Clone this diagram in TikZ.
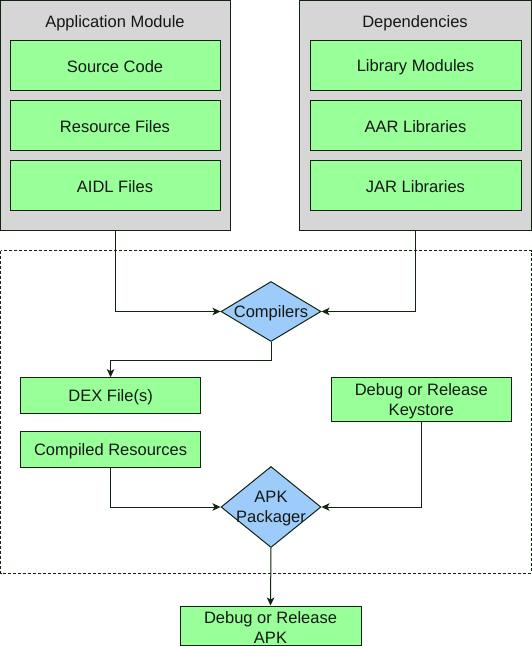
\documentclass[tikz,border=0pt]{standalone}
\usepackage{fontspec}
\setmainfont{Liberation Sans}
\usetikzlibrary{shapes.geometric,arrows.meta}
\definecolor{lineC}{RGB}{16,36,16}
\definecolor{greyC}{RGB}{214,214,214}
\definecolor{greenC}{RGB}{153,255,153}
\definecolor{blueC}{RGB}{158,204,250}
\definecolor{textC}{RGB}{20,24,20}
\tikzset{
  txt/.style={font=\fontsize{16.5}{20}\selectfont, text=textC, align=center},
  lbl/.style={label={[txt,yshift=-2pt]center:#1}},
  greybox/.style={draw=lineC, line width=1pt, fill=greyC, rectangle, inner sep=0pt},
  greenbox/.style={draw=lineC, line width=1pt, fill=greenC, rectangle, inner sep=0pt},
  dia/.style={draw=lineC, line width=1pt, fill=blueC, diamond, inner sep=0pt, minimum width=100pt},
  arr/.style={draw=lineC, line width=1pt, -{Stealth[length=8pt,width=7.5pt,inset=2pt]}},
  region/.style={draw=lineC, line width=0.8pt, dash pattern=on 3pt off 2pt}
}
\begin{document}
\begin{tikzpicture}[x=1pt,y=-1pt]
\useasboundingbox (0,0) rectangle (532,646);
% application module
\node[greybox, minimum width=230pt, minimum height=230pt] (app) at (115,115) {};
\node[txt, yshift=-2pt] (apptitle) at (115,21) {Application Module};
\node[greenbox, minimum width=210pt, minimum height=50pt, lbl={Source Code}] (src) at (115,65) {};
\node[greenbox, minimum width=210pt, minimum height=50pt, lbl={Resource Files}] (res) at (115,125) {};
\node[greenbox, minimum width=210pt, minimum height=50pt, lbl={AIDL Files}] (aidl) at (115,185) {};
% dependencies
\node[greybox, minimum width=232pt, minimum height=230pt] (dep) at (415,115) {};
\node[txt, yshift=-2pt] (deptitle) at (415,21) {Dependencies};
\node[greenbox, minimum width=211pt, minimum height=50pt, lbl={Library Modules}] (lib) at (415.5,65) {};
\node[greenbox, minimum width=211pt, minimum height=50pt, lbl={AAR Libraries}] (aar) at (415.5,125) {};
\node[greenbox, minimum width=211pt, minimum height=50pt, lbl={JAR Libraries}] (jar) at (415.5,185) {};
% build region
\draw[region] (0.5,250.5) rectangle (531,573);
% compilers
\node[dia, minimum height=60pt, lbl={Compilers}] (comp) at (271,311.5) {};
% outputs
\node[greenbox, minimum width=180pt, minimum height=35.7pt, lbl={DEX File(s)}] (dex) at (110.6,395.5) {};
\node[greenbox, minimum width=180pt, minimum height=35.7pt, lbl={Compiled Resources}] (cres) at (110.6,449.5) {};
\node[greenbox, minimum width=180.6pt, minimum height=43.8pt, lbl={Debug or Release\\Keystore}] (key) at (421.3,399.6) {};
% packager
\node[dia, minimum height=81pt, lbl={APK\\Packager}] (apk) at (271,507) {};
\node[greenbox, minimum width=181pt, minimum height=39pt, lbl={Debug or Release\\APK}] (out) at (270.5,625.5) {};
% connectors
\coordinate (bend) at (110.6,360);
\draw[arr] (app.south) |- (comp.west);
\draw[arr] (dep.south) |- (comp.east);
\draw[arr] (comp.south) |- (bend) -- (dex.north);
\draw[arr] (cres.south) |- (apk.west);
\draw[arr] (key.south) |- (apk.east);
\draw[arr] (apk.south) -- (out.north);
\end{tikzpicture}
\end{document}
